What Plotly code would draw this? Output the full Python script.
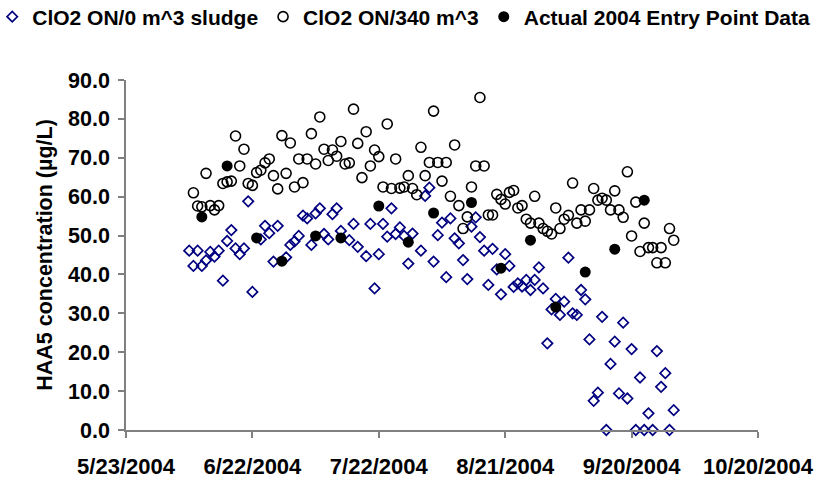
import pandas as pd
import plotly.graph_objects as go

# ---- data ----
# ClO2 ON / 0 m^3 sludge : daily model output, 6/7/2004 .. 9/30/2004 (None = hidden under other markers)
sludge0_dates = pd.date_range("2004-06-07", "2004-09-30", freq="D")
sludge0_values = [
    46.1, 42.2, 46.1, 42.2, 43.6, 45.8, 44.6, 46.1, 38.4, 48.6,
    51.4, 46.7, 45.2, 46.7, 58.8, 35.5, None, 49.0, 52.5, 50.6,
    43.3, 52.5, None, 44.4, 47.6, 48.5, 49.9, 55.1, 54.4, 47.6,
    55.7, 57.0, 50.4, 49.0, 55.5, 57.0, 51.2, None, 48.8, 53.0,
    47.1, None, 44.7, 53.0, 36.4, 45.2, 53.0, 49.7, 57.0, 50.4,
    52.1, 49.9, 42.8, 50.5, None, 46.1, 60.2, 62.3, 43.3, 50.1,
    53.3, 39.3, 54.4, 49.3, 48.0, 43.7, 38.8, 52.3, 54.7, 49.6,
    46.1, 37.3, 46.6, 41.3, 34.9, 45.2, 42.2, 36.8, 37.7, 36.9,
    38.6, 36.0, 38.6, 41.8, 36.4, 22.3, 31.0, 33.7, 29.6, 33.0,
    44.3, 30.0, 29.6, 36.0, 33.6, 23.3, 7.5, 9.6, 29.1, 0.0,
    17.0, 22.7, 9.4, 27.6, 8.1, 20.8, 0.0, 13.5, 0.0, 4.3,
    0.0, 20.3, 11.1, 14.6, 0.0, 5.1,
]

# ClO2 ON / 340 m^3 : daily model output, 6/8/2004 .. 9/30/2004
s340_dates = pd.date_range("2004-06-08", "2004-09-30", freq="D")
s340_values = [
    61.0, 57.6, 57.4, 66.0, 57.7, 56.6, 57.7, 63.4, 63.8, 64.0,
    75.6, 67.9, 72.2, 63.4, 62.9, 66.2, 66.8, 68.7, 69.7, 65.4,
    62.0, 75.7, 66.0, 73.8, 62.5, 69.7, 63.6, 69.7, 76.2, 68.4,
    80.5, 72.2, 69.3, 72.0, 70.4, 74.2, 68.4, 68.7, 82.5, 73.7,
    64.9, 76.7, 67.9, 72.0, 70.3, 62.5, 78.7, 62.1, 69.7, 62.2,
    62.5, 65.4, 62.1, 60.5, 72.7, 65.4, 68.8, 82.0, 68.8, 64.0,
    68.8, 60.1, 73.3, 57.7, 51.8, 54.8, 62.5, 67.9, 85.5, 67.9,
    55.3, 55.3, 60.6, 59.3, 58.1, 61.1, 61.6, 57.1, 57.7, 54.2,
    53.2, 60.1, 53.2, 51.8, 51.1, 50.4, 57.1, 51.8, 54.2, 55.2,
    63.5, 53.2, 56.6, 53.7, 56.6, 62.1, 59.1, 59.6, 59.1, 56.6,
    61.5, 56.6, 54.7, 66.4, 49.9, 58.6, 45.9, 53.2, 46.9, 46.9,
    43.0, 46.9, 43.0, 51.8, 48.8,
]

# Actual 2004 entry point data
actual_dates = [
    "2004-06-10", "2004-06-16", "2004-06-23", "2004-06-29", "2004-07-07", "2004-07-13",
    "2004-07-22", "2004-07-29", "2004-08-04", "2004-08-13", "2004-08-20", "2004-08-27",
    "2004-09-02", "2004-09-09", "2004-09-16", "2004-09-23",
]
actual_values = [
    54.8, 67.9, 49.4, 43.4, 49.9, 49.4,
    57.6, 48.3, 55.8, 58.5, 41.6, 48.8,
    31.6, 40.6, 46.5, 59.1,
]

series_names = ["ClO2 ON/0 m^3 sludge", "ClO2 ON/340 m^3", "Actual 2004 Entry Point Data"]
x_range = ["2004-05-23", "2004-10-20"]
y_title = "HAA5 concentration (µg/L)"

# ---- figure ----
FONT = "Liberation Sans, Arial, sans-serif"
AXIS_GRAY = "#808080"

fig = go.Figure()
fig.add_trace(go.Scatter(
    x=sludge0_dates, y=sludge0_values, mode="markers", name=series_names[0],
    marker=dict(symbol="diamond-open", size=8, color="#000080",
                line=dict(width=1.7, color="#000080")),
    cliponaxis=False,
))
fig.add_trace(go.Scatter(
    x=s340_dates, y=s340_values, mode="markers", name=series_names[1],
    marker=dict(symbol="circle-open", size=10, color="black",
                line=dict(width=1.6, color="black")),
    cliponaxis=False,
))
fig.add_trace(go.Scatter(
    x=actual_dates, y=actual_values, mode="markers", name=series_names[2],
    marker=dict(symbol="circle", size=11, color="black", line=dict(width=0)),
    cliponaxis=False,
))

fig.update_layout(
    width=830, height=478,
    margin=dict(l=126, r=0, t=80, b=48, autoexpand=False),
    paper_bgcolor="white", plot_bgcolor="white",
    font=dict(family=FONT, size=21, color="black", weight="bold"),
    showlegend=True,
    legend=dict(
        orientation="h", x=-0.19, xanchor="left", y=1.18, yanchor="middle",
        font=dict(family=FONT, size=21, color="black", weight="bold"),
        bgcolor="rgba(0,0,0,0)", borderwidth=0, itemwidth=30,
        traceorder="normal",
    ),
    xaxis=dict(
        domain=[0, 632 / 704],
        type="date", range=x_range,
        tick0=x_range[0], dtick=30 * 86400000,
        tickformat="%-m/%-d/%Y",
        showgrid=False, zeroline=False,
        showline=True, linecolor=AXIS_GRAY, linewidth=1.5,
        ticks="outside", ticklen=6, tickwidth=1.5, tickcolor=AXIS_GRAY,
        tickfont=dict(family=FONT, size=22, color="black", weight="bold"),
        ticklabelstandoff=10,
    ),
    yaxis=dict(
        range=[0, 90], dtick=10, tickformat=".1f",
        showgrid=False, zeroline=False,
        showline=True, linecolor=AXIS_GRAY, linewidth=1.5,
        ticks="outside", ticklen=6, tickwidth=1.5, tickcolor=AXIS_GRAY,
        tickfont=dict(family=FONT, size=21.5, color="black", weight="bold"),
        ticklabelstandoff=4,
        title=dict(text=y_title, standoff=10,
                   font=dict(family=FONT, size=21.5, color="black", weight="bold")),
    ),
)

fig.write_html("out.html")
